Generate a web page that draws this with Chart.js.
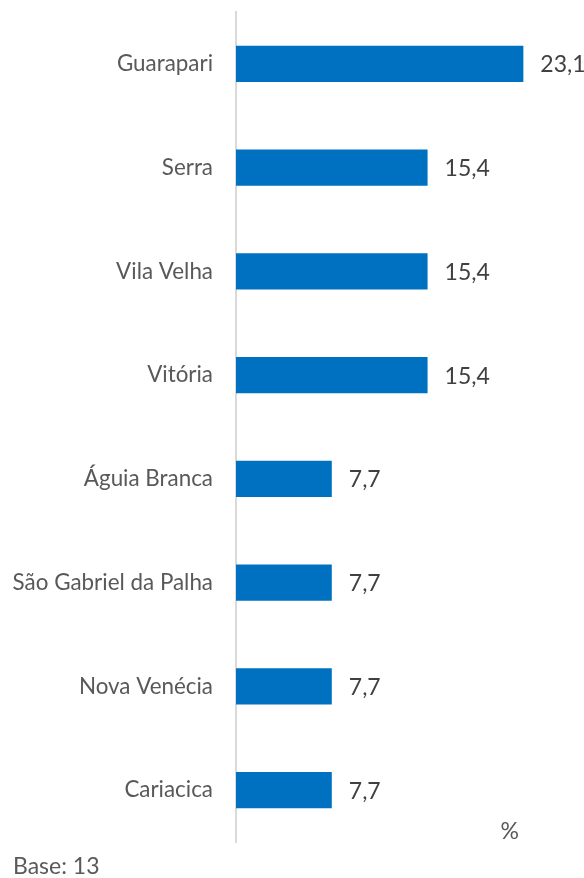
<!DOCTYPE html>
<html><head><meta charset="utf-8">
<script src="https://cdn.jsdelivr.net/npm/chart.js@4"></script>
<style>html,body{margin:0;padding:0;background:#fff;}#wrap{position:relative;width:584px;height:878px;}
#base{position:absolute;left:13px;top:851px;font-family:Lato,sans-serif;font-size:23px;line-height:28px;color:#595959;}
canvas{position:absolute;left:0;top:0;}
</style></head><body>
<div id="wrap"><canvas id="c" width="584" height="878"></canvas><div id="base">Base: 13</div></div>
<script>
const categories = ["Guarapari","Serra","Vila Velha","Vitória","Águia Branca","São Gabriel da Palha","Nova Venécia","Cariacica"];
const values = [23.1,15.4,15.4,15.4,7.7,7.7,7.7,7.7];
const valueLabels = ["23,1","15,4","15,4","15,4","7,7","7,7","7,7","7,7"];
const unitLabel = "%";

const labelPlugin = {
  id:'vlabels',
  afterDatasetsDraw(chart){
    const ctx = chart.ctx;
    const meta = chart.getDatasetMeta(0);
    ctx.save();
    ctx.font = '23px Lato, sans-serif';
    ctx.fillStyle = '#404040';
    ctx.textAlign = 'left';
    ctx.textBaseline = 'middle';
    meta.data.forEach((bar,i)=>{
      ctx.fillText(valueLabels[i], bar.x + 17, bar.y + 1);
    });
    ctx.fillStyle = '#595959';
    ctx.textAlign = 'center';
    ctx.fillText(unitLabel, chart.scales.x.getPixelForValue(22), chart.chartArea.bottom - 10);
    ctx.restore();
  }
};

new Chart(document.getElementById('c'), {
  type:'bar',
  data:{labels:categories, datasets:[{data:values, backgroundColor:'#0070C0', borderWidth:0, categoryPercentage:1, barPercentage:0.35}]},
  options:{
    indexAxis:'y', responsive:false, animation:false,
    layout:{padding:{top:12,right:37,bottom:36,left:0}},
    plugins:{legend:{display:false}, tooltip:{enabled:false}},
    scales:{
      x:{min:0,max:25,display:false},
      y:{grid:{display:false, drawTicks:false}, border:{color:'#D9D9D9', width:2},
         afterFit(s){ s.width = 236; s.paddingTop = 0; s.paddingBottom = 0; },
         ticks:{padding:23, color:'#595959', font:{family:'Lato, sans-serif', size:22.4}}}
    }
  },
  plugins:[labelPlugin]
});
</script></body></html>
